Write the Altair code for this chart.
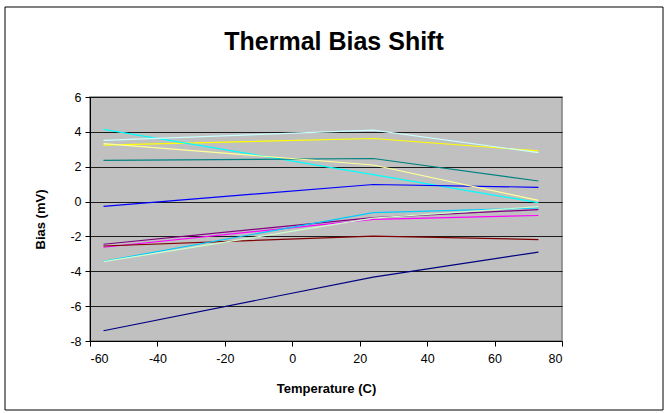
import altair as alt
import pandas as pd

temps = [-56, 24, 73]
series_names = ["S1", "S2", "S3", "S4", "S5", "S6", "S7", "S8", "S9", "S10", "S11", "S12"]
series_colors = ["#000080", "#FF00FF", "#FFFF00", "#00FFFF", "#800080", "#800000",
                 "#008080", "#0000FF", "#00CCFF", "#CCFFFF", "#CCFFCC", "#FFFF99"]
s1 = [-7.41, -4.33, -2.90]
s2 = [-2.62, -1.02, -0.80]
s3 = [3.24, 3.62, 2.91]
s4 = [4.14, 1.55, -0.06]
s5 = [-2.45, -0.92, -0.46]
s6 = [-2.55, -1.98, -2.18]
s7 = [2.36, 2.47, 1.18]
s8 = [-0.27, 0.98, 0.82]
s9 = [-3.43, -0.63, -0.37]
s10 = [3.51, 4.10, 2.81]
s11 = [-3.45, -0.95, -0.29]
s12 = [3.33, 2.10, 0.07]
all_series = [s1, s2, s3, s4, s5, s6, s7, s8, s9, s10, s11, s12]
x_ticks = [-60, -40, -20, 0, 20, 40, 60, 80]
y_ticks = [-8, -6, -4, -2, 0, 2, 4, 6]

rows = []
for i, (name, vals) in enumerate(zip(series_names, all_series)):
    for t, v in zip(temps, vals):
        rows.append({"series": name, "order": i, "temp": t, "bias": v})
df = pd.DataFrame(rows)

FONT = "Liberation Sans"

lines = alt.Chart(df).mark_line(strokeWidth=1.2, clip=True).encode(
    x=alt.X("temp:Q", scale=alt.Scale(domain=[-60, 80], nice=False, zero=False),
            axis=alt.Axis(values=x_ticks, title="Temperature (C)", labelExpr="'' + datum.value",
                          grid=False, tickSize=5, labelPadding=6, titlePadding=18,
                          domainColor="#000000", tickColor="#000000")),
    y=alt.Y("bias:Q", scale=alt.Scale(domain=[-8, 6], nice=False, zero=False),
            axis=alt.Axis(values=y_ticks, title="Bias (mV)", labelExpr="'' + datum.value",
                          grid=True, gridColor="#000000", gridWidth=1, gridOpacity=0.85,
                          tickSize=5, labelPadding=4, titlePadding=22,
                          domainColor="#000000", tickColor="#000000")),
    color=alt.Color("series:N", scale=alt.Scale(domain=series_names, range=series_colors), legend=None),
    order=alt.Order("order:Q"),
)

one = pd.DataFrame({"a": [0]})
border = alt.Chart(one).mark_rect(fill=None, stroke="#000000", strokeWidth=1, clip=False).encode(
    x=alt.value(-85), x2=alt.value(573), y=alt.value(-90), y2=alt.value(313)
)
title = alt.Chart(one).mark_text(text="Thermal Bias Shift", font=FONT, fontSize=25,
                                 fontWeight="bold", align="center", baseline="middle",
                                 color="#000000", clip=False).encode(
    x=alt.value(244), y=alt.value(-55)
)

chart = alt.layer(border, lines, title).properties(
    width=472, height=244,
    autosize=alt.AutoSizeParams(type="none"),
    padding={"left": 90, "top": 97, "right": 107, "bottom": 72},
    background="#FFFFFF",
).configure_view(
    fill="#C0C0C0", stroke="#808080", strokeWidth=1.5
).configure_axis(
    labelFont=FONT, labelFontSize=12.5, labelColor="#000000",
    titleFont=FONT, titleFontSize=13, titleFontWeight="bold", titleColor="#000000",
)

chart.save("out.html", embed_options={"renderer": "svg", "actions": False})
